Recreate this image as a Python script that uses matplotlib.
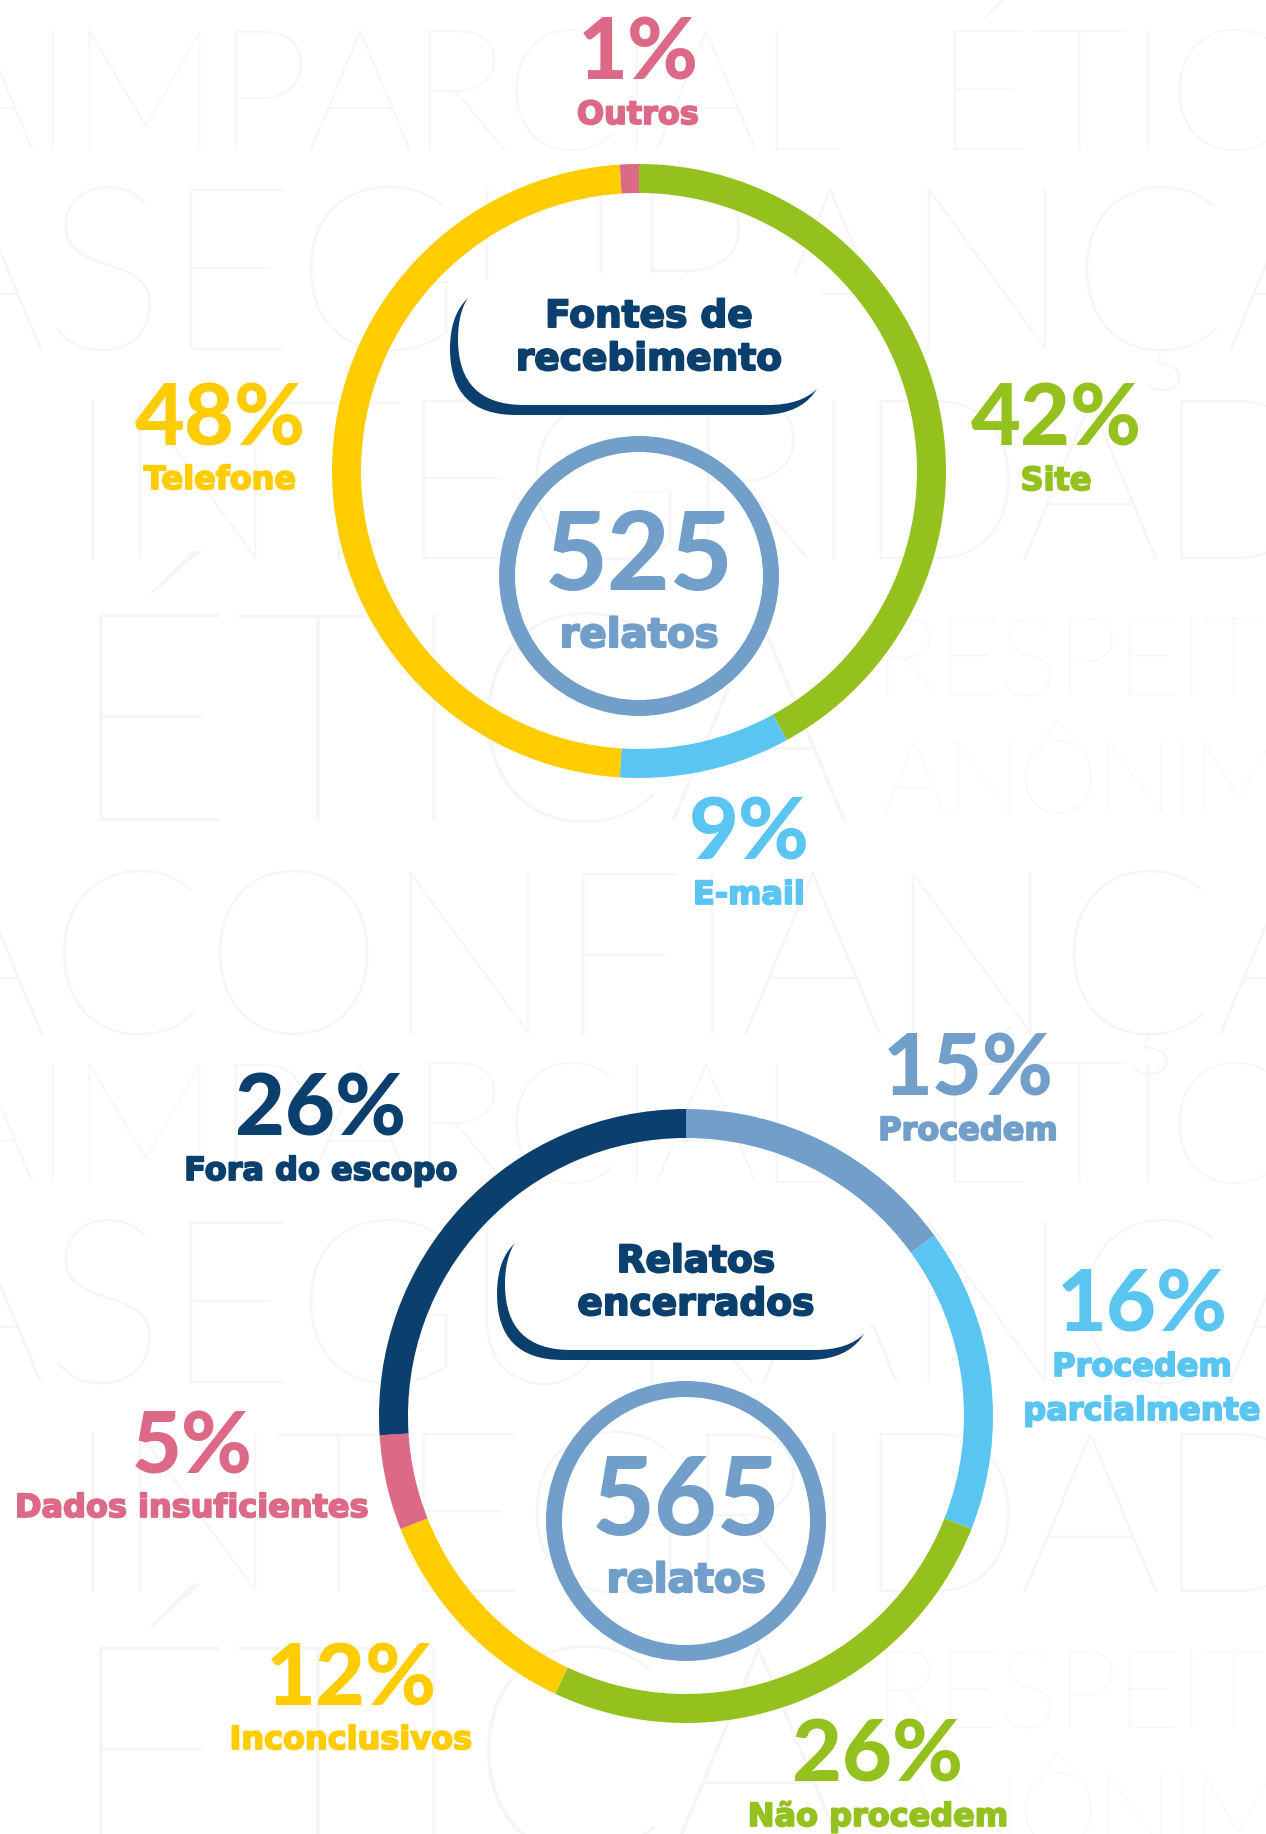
import matplotlib
matplotlib.use("Agg")
import matplotlib.pyplot as plt
import matplotlib.patheffects as pe
from matplotlib.patches import FancyBboxPatch, Wedge
from matplotlib.font_manager import FontProperties, fontManager, weight_dict

# ---------------- data ----------------
fontes_labels = ["Site", "E-mail", "Telefone", "Outros"]
fontes_values = [42, 9, 48, 1]
fontes_total = 525
fontes_title = ["Fontes de", "recebimento"]

encerr_labels = ["Procedem", "Procedem\nparcialmente", "Não procedem",
                 "Inconclusivos", "Dados insuficientes", "Fora do escopo"]
encerr_values = [15, 16, 26, 12, 5, 26]
encerr_total = 565
encerr_title = ["Relatos", "encerrados"]

unit_label = "relatos"

# ---------------- style ----------------
YELLOW = "#FFCC00"
GREEN = "#95C11F"
SKY = "#5BC5F2"
STEEL = "#729FCA"
PINK = "#DC6A87"
NAVY = "#0B3F6E"
WM = "#F6F6F6"

fontes_colors = [GREEN, SKY, YELLOW, PINK]
encerr_colors = [STEEL, SKY, GREEN, YELLOW, PINK, NAVY]

W, H = 1266, 1834
fig = plt.figure(figsize=(W / 100, H / 100), dpi=100)
ax = fig.add_axes([0, 0, 1, 1])


def _wt(f):
    w = f.weight
    return w if isinstance(w, (int, float)) else weight_dict.get(w, 400)


def pick_font(families, target):
    for fam in families:
        c = [f for f in fontManager.ttflist
             if f.name.startswith(fam) and f.style == "normal"]
        if c:
            best = min(c, key=lambda f: (abs(_wt(f) - target),
                                         f.stretch != "normal", -_wt(f)))
            return best.fname
    return None


heavy_path = pick_font(["Lato", "Roboto", "Open Sans", "Inter"], 900)
thin_path = pick_font(["Lato", "Open Sans", "Roboto", "Inter", "Noto Sans"], 200)


def heavy(size):
    if heavy_path:
        return FontProperties(fname=heavy_path, size=size)
    return FontProperties(family="DejaVu Sans", weight="bold", size=size)


def thin(size):
    if thin_path:
        return FontProperties(fname=thin_path, size=size)
    return FontProperties(family="DejaVu Sans", weight="light", size=size)


def bold(size):
    return FontProperties(family="DejaVu Sans", weight="bold", size=size)


def fat(color, lw=1.3):
    return [pe.withStroke(linewidth=lw, foreground=color)]


renderer = fig.canvas.get_renderer()


def cap_ratio(propfn):
    p = propfn(100)
    w, h, d = renderer.get_text_width_height_descent("H", p, ismath=False)
    return (h - d) / (100 * 100 / 72)


# ---------------- watermark ----------------
thin_cap = cap_ratio(thin)


def tracked(s, x_left, x_right, baseline, cap):
    size_pt = cap / thin_cap * 72 / 100
    p = thin(size_pt)
    widths = [0.0]
    for i in range(1, len(s)):
        w, h, d = renderer.get_text_width_height_descent(s[:i], p, ismath=False)
        widths.append(w)
    total, _, _ = renderer.get_text_width_height_descent(s, p, ismath=False)
    n = len(s)
    t = ((x_right - x_left) - total) / (n - 1) if n > 1 else 0
    for i, ch in enumerate(s):
        x = x_left + widths[i] + i * t
        if x > W - 2:
            continue
        ax.text(x, baseline, ch, fontproperties=p,
                color=WM, ha="left", va="baseline", zorder=0.2)


wm_rows = [
    ("AIMPARCIAL", -72, 840, 150, 119),
    ("ÉTICA", 933, 1390, 150, 119),
    ("ASEGURANÇA", -100, 1370, 350, 161),
    ("INTEGRIDADE", 65, 1450, 559, 159),
    ("ÉTICA", 65, 852, 821, 206),
    ("RESPEITO", 873, 1350, 695, 78),
    ("ANÔNIMO", 882, 1360, 813, 72),
    ("ACONFIANÇA", -100, 1360, 1034, 162),
]
for off in (0, 1033):
    for s, xl, xr, bl, cap in wm_rows:
        if bl + off - cap < H:
            tracked(s, xl, xr, bl + off, cap)

# ---------------- charts ----------------
R_OUT, RING = 307, 29


def donut(cx, cy, values, colors):
    ax.pie(values, colors=colors, startangle=-90, counterclock=True,
           radius=R_OUT, center=(cx, cy), frame=True,
           wedgeprops=dict(width=RING, linewidth=0, edgecolor="none"))


def badge(cx, cy, lines):
    left, right = cx - 189, cx + 187
    top, bottom = cy - 188, cy - 56
    r = (bottom - top) / 2
    ax.add_patch(FancyBboxPatch((left, top), right - left, bottom - top,
                                boxstyle=f"round,pad=0,rounding_size={r}",
                                fc=NAVY, ec="none", zorder=3))
    ax.add_patch(FancyBboxPatch((left + 8, top - 10), right - left, bottom - top,
                                boxstyle=f"round,pad=0,rounding_size={r}",
                                fc="white", ec="none", zorder=4))
    for k, line in enumerate(lines):
        ax.text(cx + 10, cy - 144 + 43 * k, line, fontproperties=bold(27),
                color=NAVY, ha="center", va="baseline", zorder=5,
                path_effects=fat(NAVY, 1.4))


def center_count(cx, cy, total):
    ax.add_patch(Wedge((cx, cy + 105), 140, 0, 360, width=16,
                       fc=STEEL, ec="none", zorder=3))
    ax.text(cx, cy + 119, str(total), fontproperties=heavy(78), color=STEEL,
            ha="center", va="baseline", zorder=5)
    ax.text(cx, cy + 176, unit_label, fontproperties=bold(29), color=STEEL,
            ha="center", va="baseline", zorder=5, path_effects=fat(STEEL, 1.5))


def label(x, y, value, text, color):
    ax.text(x, y, f"{value}%", fontproperties=heavy(62), color=color,
            ha="center", va="baseline", zorder=5)
    for k, line in enumerate(text.split("\n")):
        ax.text(x, y + 44 + 44 * k, line, fontproperties=bold(23), color=color,
                ha="center", va="baseline", zorder=5,
                path_effects=fat(color, 1.3))


# top chart
C1 = (639, 471)
donut(C1[0], C1[1], fontes_values, fontes_colors)
badge(C1[0], C1[1], fontes_title)
center_count(C1[0], C1[1], fontes_total)
pos1 = [(417, -25), (110, 389), (-419, -26), (-1, -391)]
for (dx, dy), v, t, c in zip(pos1, fontes_values, fontes_labels, fontes_colors):
    label(C1[0] + dx, C1[1] + dy, v, t, c)

# bottom chart
C2 = (686, 1416)
donut(C2[0], C2[1], encerr_values, encerr_colors)
badge(C2[0], C2[1], encerr_title)
center_count(C2[0], C2[1], encerr_total)
pos2 = [(282, -320), (456, -84), (192, 366), (-335, 289), (-494, 57), (-365, -280)]
for (dx, dy), v, t, c in zip(pos2, encerr_values, encerr_labels, encerr_colors):
    label(C2[0] + dx, C2[1] + dy, v, t, c)

ax.set_xlim(0, W)
ax.set_ylim(H, 0)
ax.set_aspect("auto")
ax.axis("off")
fig.savefig("out.png", dpi=100, facecolor="white")
